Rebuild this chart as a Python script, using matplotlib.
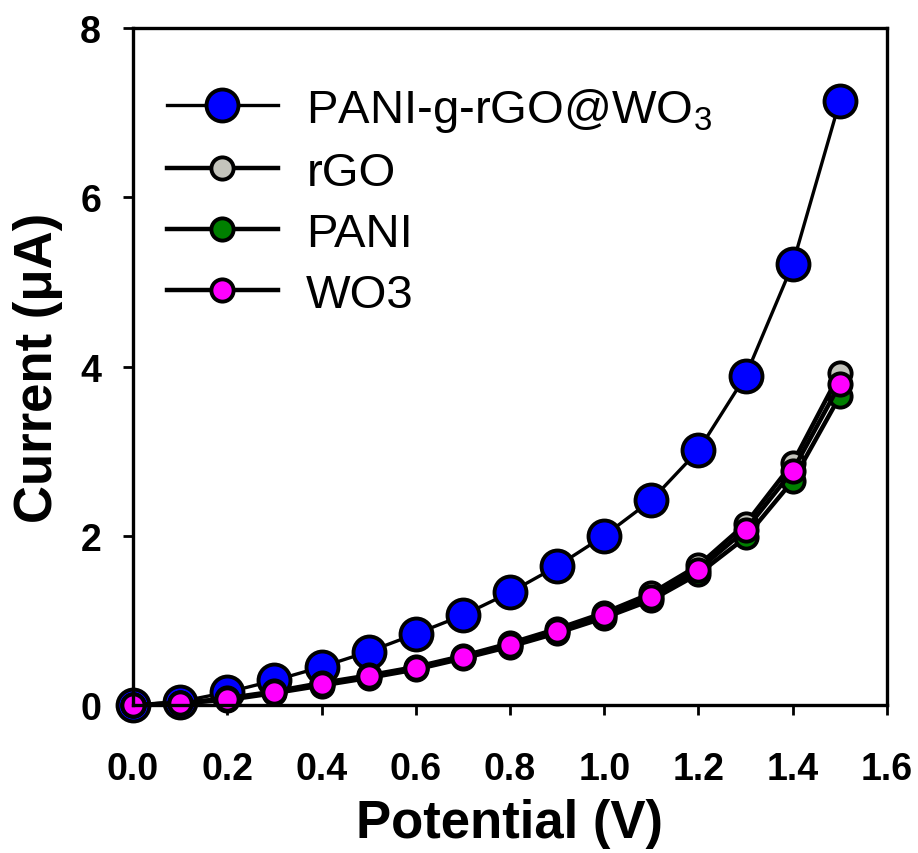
import matplotlib
matplotlib.use("Agg")
import matplotlib.pyplot as plt

plt.rcParams['font.family'] = ['Liberation Sans', 'DejaVu Sans']
plt.rcParams['mathtext.fontset'] = 'custom'
plt.rcParams['mathtext.rm'] = 'Liberation Sans'
plt.rcParams['mathtext.it'] = 'Liberation Sans'

# potential (V)
potential = [0.0, 0.1, 0.2, 0.3, 0.4, 0.5, 0.6, 0.7, 0.8, 0.9, 1.0, 1.1, 1.2, 1.3, 1.4, 1.5]
# current (uA)
pani_rgo_wo3 = [0.0, 0.04, 0.15, 0.29, 0.45, 0.63, 0.84, 1.06, 1.33, 1.64, 2.00, 2.42, 3.01, 3.89, 5.21, 7.14]
rgo = [0.0, 0.02, 0.08, 0.16, 0.26, 0.35, 0.45, 0.58, 0.73, 0.90, 1.09, 1.32, 1.65, 2.14, 2.86, 3.92]
pani = [0.0, 0.02, 0.06, 0.14, 0.23, 0.32, 0.42, 0.55, 0.69, 0.85, 1.03, 1.24, 1.55, 1.98, 2.65, 3.65]
wo3 = [0.0, 0.02, 0.07, 0.15, 0.25, 0.34, 0.44, 0.57, 0.71, 0.88, 1.06, 1.28, 1.60, 2.07, 2.77, 3.79]

labels = [r'PANI-g-rGO@WO$_3$', 'rGO', 'PANI', 'WO3']
colors = ['#0000FF', '#C4C4BC', '#008000', '#FF00FF']
xticks = [0.0, 0.2, 0.4, 0.6, 0.8, 1.0, 1.2, 1.4, 1.6]
yticks = [0, 2, 4, 6, 8]

fig = plt.figure(figsize=(9.18, 8.54), dpi=100)
ax = fig.add_axes([0.1449, 0.1733, 0.8213, 0.7927])

series = [pani_rgo_wo3, rgo, pani, wo3]
sizes = [23, 16, 16, 16]
lws = [2.4, 3.2, 3.2, 3.2]
handles = []
for ys, lab, col, ms, lw in zip(series, labels, colors, sizes, lws):
    h, = ax.plot(potential, ys, '-o', color='black', lw=lw, marker='o', ms=ms,
                 mfc=col, mec='black', mew=2.8, label=lab, clip_on=False)
    handles.append(h)

ax.set_xlim(0, 1.6)
ax.set_ylim(0, 8)
ax.set_xticks(xticks)
ax.set_xticklabels([f'{t:.1f}' for t in xticks])
ax.set_yticks(yticks)
ax.set_yticklabels([str(t) for t in yticks])

for s in ax.spines.values():
    s.set_linewidth(2.4)
ax.tick_params(direction='out', length=7, width=2, labelsize=27, pad=26)
ax.tick_params(axis='y', pad=16)
for t in ax.get_xticklabels() + ax.get_yticklabels():
    t.set_fontweight('bold')

ax.set_xlabel('Potential (V)', fontsize=38, fontweight='bold', labelpad=8)
ax.set_ylabel('Current (μA)', fontsize=38, fontweight='bold', labelpad=12)

ax.legend(handles=handles, loc='upper left', bbox_to_anchor=(0.045, 0.915),
          frameon=False, fontsize=34, handlelength=2.35, handletextpad=0.6,
          labelspacing=0.36, borderpad=0, borderaxespad=0)

fig.savefig('out.png', dpi=100)
